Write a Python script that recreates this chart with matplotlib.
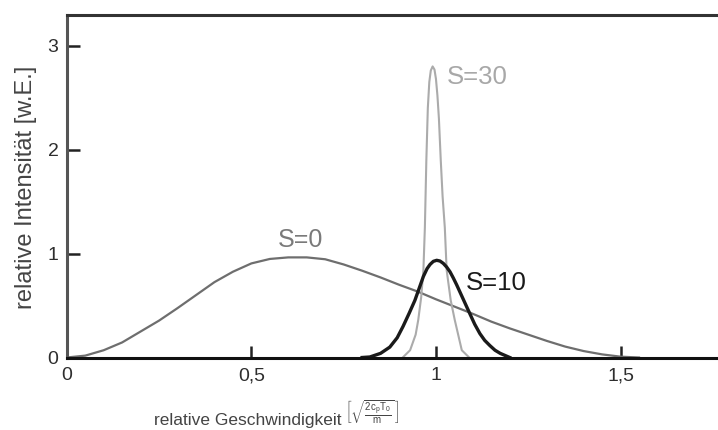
import matplotlib
matplotlib.use('Agg')
import matplotlib.pyplot as plt

plt.rcParams['font.family'] = ['Liberation Sans', 'DejaVu Sans']
plt.rcParams['mathtext.fontset'] = 'custom'
plt.rcParams['mathtext.rm'] = 'Liberation Sans'
plt.rcParams['mathtext.it'] = 'Liberation Sans'

# S=0 (breite Verteilung)
s0_x = [0, 0.05, 0.10, 0.15, 0.20, 0.25, 0.30, 0.35, 0.40, 0.45, 0.50, 0.55,
        0.60, 0.65, 0.70, 0.75, 0.80, 0.85, 0.90, 0.95, 1.00, 1.05, 1.10, 1.15,
        1.20, 1.25, 1.30, 1.35, 1.40, 1.45, 1.50, 1.55]
s0_y = [0, 0.018, 0.07, 0.145, 0.25, 0.355, 0.475, 0.60, 0.725, 0.825, 0.905, 0.948,
        0.963, 0.963, 0.945, 0.895, 0.835, 0.77, 0.70, 0.635, 0.56, 0.49, 0.42, 0.345,
        0.28, 0.22, 0.16, 0.105, 0.062, 0.03, 0.008, 0]

# S=10
s10_x = [0.80, 0.821, 0.85, 0.875, 0.895, 0.911, 0.928, 0.943, 0.955, 0.966, 0.976,
         0.984, 0.993, 1.002, 1.011, 1.02, 1.029, 1.038, 1.047, 1.056, 1.065, 1.074,
         1.083, 1.092, 1.105, 1.119, 1.132, 1.146, 1.16, 1.174, 1.2]
s10_y = [0, 0.005, 0.04, 0.10, 0.19, 0.30, 0.43, 0.55, 0.67, 0.78, 0.855,
         0.895, 0.925, 0.935, 0.928, 0.905, 0.87, 0.825, 0.765, 0.70, 0.63, 0.56,
         0.49, 0.42, 0.32, 0.23, 0.165, 0.115, 0.07, 0.04, 0]

# S=30
s30_x = [0.91, 0.93, 0.945, 0.952, 0.96, 0.966, 0.970, 0.974, 0.978, 0.982, 0.986,
         0.991, 0.996, 1.000, 1.004, 1.008, 1.013, 1.018, 1.024, 1.029, 1.040,
         1.051, 1.07, 1.09]
s30_y = [0, 0.07, 0.22, 0.36, 0.58, 0.84, 1.25, 1.9, 2.4, 2.65, 2.76,
         2.80, 2.77, 2.68, 2.52, 2.3, 1.9, 1.55, 1.25, 0.84, 0.55,
         0.36, 0.07, 0]

x_ticks = [0, 0.5, 1, 1.5]
x_tick_labels = ['0', '0,5', '1', '1,5']
y_ticks = [0, 1, 2, 3]
y_tick_labels = ['0', '1', '2', '3']

fig = plt.figure(figsize=(7.18, 4.30), dpi=100)
ax = fig.add_axes([0.093, 0.1686, 0.907, 0.7954])

ax.plot(s0_x, s0_y, color='#6e6e6e', lw=1.6)
ax.plot(s30_x, s30_y, color='#ababab', lw=1.5)
ax.plot(s10_x, s10_y, color='#1a1a1a', lw=2.4)

ax.text(0.632, 1.13, 'S=0', color='#7a7a7a', fontsize=18, ha='center', va='center')
ax.text(1.081, 0.716, 'S=10', color='#1a1a1a', fontsize=18.5, ha='left', va='center')
ax.text(1.03, 2.70, 'S=30', color='#a8a8a8', fontsize=18.5, ha='left', va='center')

ax.set_xlim(0, 1.764)
ax.set_ylim(0, 3.29)
ax.set_xticks(x_ticks)
ax.set_xticklabels(x_tick_labels)
ax.set_yticks(y_ticks)
ax.set_yticklabels(y_tick_labels)
ax.tick_params(direction='in', length=9, width=1.8, color='#222222',
               labelsize=14, labelcolor='#2e2e2e')
ax.tick_params(axis='x', pad=7)
ax.tick_params(axis='y', pad=6)

ax.spines['right'].set_visible(False)
ax.spines['left'].set_color('#555555')
ax.spines['left'].set_linewidth(2.2)
ax.spines['bottom'].set_color('#111111')
ax.spines['bottom'].set_linewidth(2.2)
ax.spines['top'].set_color('#333333')
ax.spines['top'].set_linewidth(2.2)

# Achsentitel (Originalgrafik ist rechts beschnitten, daher nicht mittig)
fig.text(154 / 718, 1 - 425 / 430, 'relative Geschwindigkeit',
         fontsize=12.5, color='#444444', ha='left', va='baseline')
fig.text(345 / 718, 1 - 412 / 430,
         r'$\left[\sqrt{\frac{2c_pT_0}{m}}\,\right]$',
         fontsize=10, color='#444444', ha='left', va='center')
fig.text(26 / 718, 1 - 187 / 430, 'relative Intensität [w.E.]',
         fontsize=17, color='#444444', ha='center', va='center', rotation=90)

fig.savefig('out.png', dpi=100)
